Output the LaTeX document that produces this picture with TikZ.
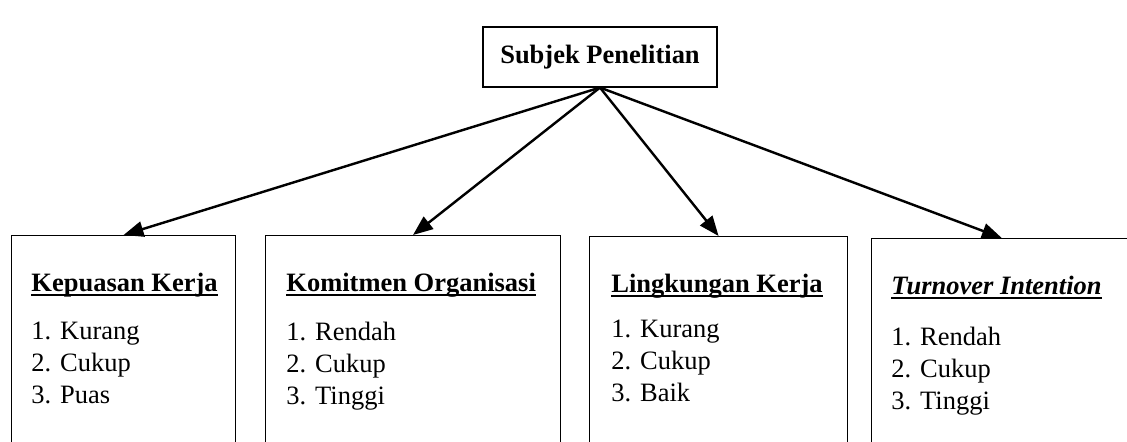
\documentclass[tikz,border=0pt]{standalone}
\usepackage{fontspec}
\setmainfont{Liberation Serif}
\usetikzlibrary{arrows.meta,positioning}

% underline at a fixed depth, through the descenders
\newcommand{\titleul}[1]{\setbox0\hbox{#1}\rlap{\rule[-2.3pt]{\wd0}{0.9pt}}\box0}

\tikzset{
  varbox/.style={draw,line width=0.5pt,anchor=north west,minimum height=113pt,inner sep=0pt},
  vartitle/.style={anchor=base west,inner sep=0pt,font=\fontsize{12}{14.4}\selectfont\bfseries},
  varlist/.style={anchor=north west,align=left,inner sep=0pt,font=\fontsize{12}{14.4}\selectfont}
}

\begin{document}
\begin{tikzpicture}[>={Triangle[length=9pt,width=7pt]},x=0.453pt,y=-0.453pt]
  \clip (0,0) rectangle (1127,442);
  \node[draw,line width=0.5pt,minimum width=106pt,minimum height=27.2pt,font=\fontsize{12}{14.4}\selectfont\bfseries] (subjek) at (600,57) {Subjek Penelitian};

  \node[varbox,minimum width=101.5pt] (kepuasan) at (11,235) {};
  \node[varbox,minimum width=133.6pt] (komitmen) at (265,235) {};
  \node[varbox,minimum width=116.9pt] (lingkungan) at (589,236) {};
  \node[varbox,minimum width=118pt] (turnover) at (871,238) {};

  \node[vartitle] (kepuasantitle) at (31,291) {\titleul{Kepuasan Kerja}};
  \node[varlist] (kepuasanlist) at (31,322) {1. Kurang\\2. Cukup\\3. Puas};
  \node[vartitle] (komitmentitle) at (286,291) {\titleul{Komitmen Organisasi}};
  \node[varlist] (komitmenlist) at (286,322) {1. Rendah\\2. Cukup\\3. Tinggi};
  \node[vartitle] (lingkungantitle) at (611,292) {\titleul{Lingkungan Kerja}};
  \node[varlist] (lingkunganlist) at (611,319.5) {1. Kurang\\2. Cukup\\3. Baik};
  \node[vartitle] (turnovertitle) at (891,294) {\titleul{\itshape Turnover Intention}};
  \node[varlist] (turnoverlist) at (891,327) {1. Rendah\\2. Cukup\\3. Tinggi};

  \draw[->,line width=1.1pt] (subjek.south) -- (kepuasan.north);
  \draw[->,line width=1.1pt] (subjek.south) -- (komitmen.north);
  \draw[->,line width=1.1pt] (subjek.south) -- (lingkungan.north);
  \draw[->,line width=1.1pt] (subjek.south) -- (turnover.north);
\end{tikzpicture}
\end{document}
